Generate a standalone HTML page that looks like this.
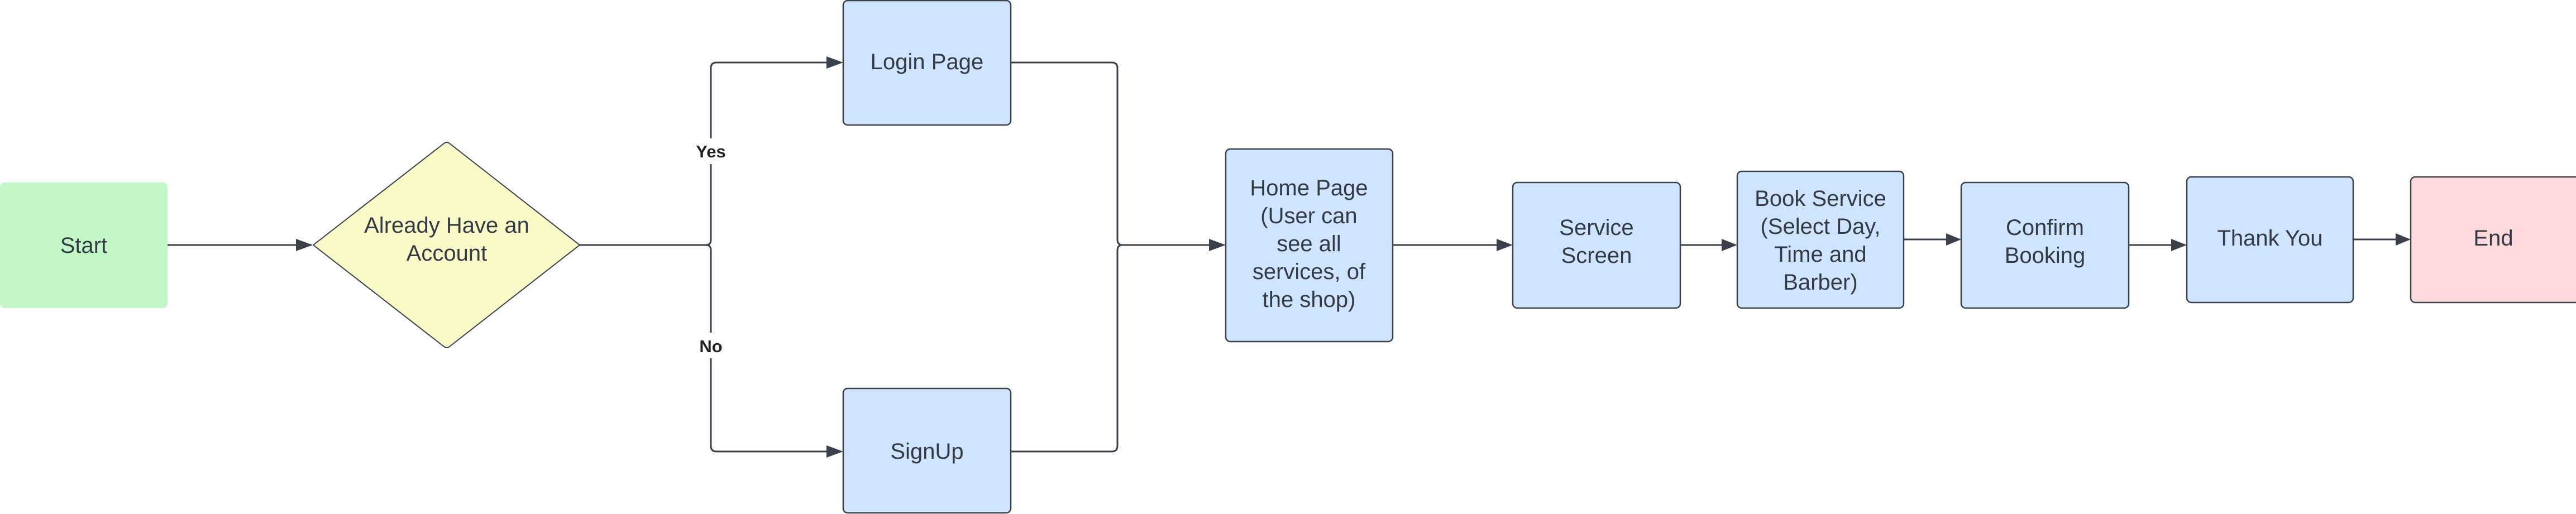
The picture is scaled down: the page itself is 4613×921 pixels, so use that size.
<!DOCTYPE html>
<html><head><meta charset="utf-8"><style>
html,body{margin:0;padding:0;background:#fff;}
svg{display:block;}
text{font-family:"Liberation Sans",sans-serif;fill:#333a44;}
</style></head><body>
<svg width="4613" height="921" viewBox="0 0 4613 921" xmlns="http://www.w3.org/2000/svg">
<defs>
<marker id="a" markerWidth="10" markerHeight="10" refX="9" refY="5" orient="auto" markerUnits="userSpaceOnUse" viewBox="0 0 10 10"><path d="M0,0 L10,5 L0,10 z" fill="#3a414a"/></marker>
</defs>
<g fill="none" stroke="#3a414a" stroke-width="3">
<path d="M300,439 H558" marker-end="url(#a)" style="marker-end:none"/>
<path d="M1038,439 H1264 Q1273,439 1273,430 V122 Q1273,112 1283,112 H1480"/>
<path d="M1264,439 Q1273,439 1273,448 V799 Q1273,809 1283,809 H1480"/>
<path d="M1810,112 H1991 Q2001,112 2001,122 V429 Q2001,439 2010,439 H2165"/>
<path d="M1810,809 H1991 Q2001,809 2001,799 V449 Q2001,439 2010,439"/>
<path d="M2494,439 H2680"/>
<path d="M3009,439 H3083"/>
<path d="M3409,429 H3485"/>
<path d="M3812,439 H3888"/>
<path d="M4214,429 H4290"/>
</g>
<g fill="#3a414a">
<path d="M530,428 L560,439 L530,450 z"/>
<path d="M1480,101 L1510,112 L1480,123 z"/>
<path d="M1480,798 L1510,809 L1480,820 z"/>
<path d="M2165,428 L2195,439 L2165,450 z"/>
<path d="M2680,428 L2709,439 L2680,450 z"/>
<path d="M3083,428 L3111,439 L3083,450 z"/>
<path d="M3485,418 L3512,429 L3485,440 z"/>
<path d="M3888,428 L3916,439 L3888,450 z"/>
<path d="M4290,418 L4317,429 L4290,440 z"/>
</g>
<rect x="1250" y="248" width="46" height="46" fill="#fff"/>
<rect x="1250" y="596" width="46" height="46" fill="#fff"/>
<text x="1273" y="282" font-size="31" font-weight="bold" text-anchor="middle" style="fill:#222">Yes</text>
<text x="1273" y="631" font-size="31" font-weight="bold" text-anchor="middle" style="fill:#222">No</text>
<rect x="0" y="327" width="300" height="225" rx="8" fill="#c3f7c8"/>
<path d="M561,439 L795,257 Q800,253 805,257 L1038,439 L805,621 Q800,625 795,621 z" fill="#fafac8" stroke="#3a414a" stroke-width="2"/>
<g fill="#cfe4ff" stroke="#3a414a" stroke-width="2.5">
<rect x="1510" y="1" width="300" height="223" rx="8"/>
<rect x="1510" y="696" width="300" height="223" rx="8"/>
<rect x="2195" y="267" width="299" height="345" rx="8"/>
<rect x="2709" y="327" width="300" height="225" rx="8"/>
<rect x="3111" y="307" width="298" height="245" rx="8"/>
<rect x="3512" y="327" width="300" height="225" rx="8"/>
<rect x="3916" y="317" width="298" height="225" rx="8"/>
</g>
<rect x="4317" y="317" width="310" height="225" rx="8" fill="#ffd9dc" stroke="#3a414a" stroke-width="2.5"/>
<g font-size="40" text-anchor="middle">
<text x="150" y="453">Start</text>
<text x="800" y="417">Already Have an</text>
<text x="800" y="467">Account</text>
<text x="1660" y="124">Login Page</text>
<text x="1660" y="822">SignUp</text>
<text x="2344" y="350">Home Page</text>
<text x="2344" y="400">(User can</text>
<text x="2344" y="450">see all</text>
<text x="2344" y="500">services, of</text>
<text x="2344" y="550">the shop)</text>
<text x="2859" y="421">Service</text>
<text x="2859" y="471">Screen</text>
<text x="3260" y="369">Book Service</text>
<text x="3260" y="419">(Select Day,</text>
<text x="3260" y="469">Time and</text>
<text x="3260" y="519">Barber)</text>
<text x="3662" y="421">Confirm</text>
<text x="3662" y="471">Booking</text>
<text x="4065" y="440">Thank You</text>
<text x="4465" y="440">End</text>
</g>
</svg>
</body></html>
